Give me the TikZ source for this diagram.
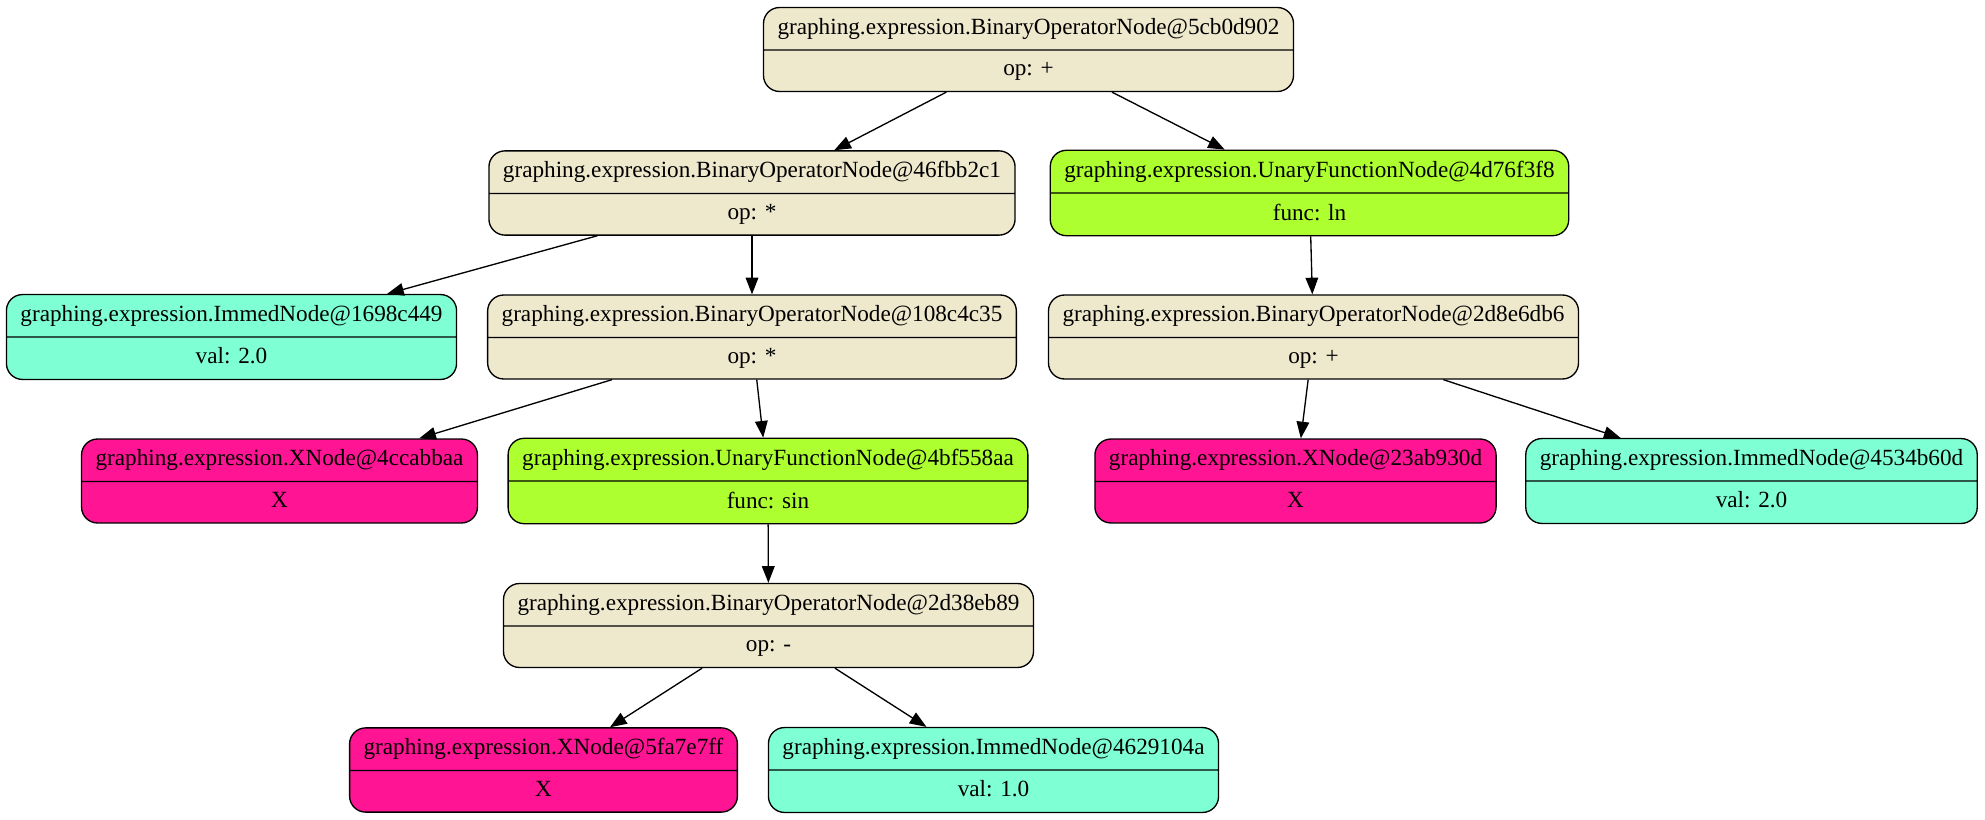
\documentclass[tikz,border=0pt]{standalone}
\usepackage{fontspec}
\setmainfont{Liberation Serif}
\usetikzlibrary{shapes.multipart,arrows.meta}
\definecolor{opcol}{HTML}{EEE8CD}
\definecolor{funcol}{HTML}{ADFF2F}
\definecolor{xcol}{HTML}{FF1493}
\definecolor{immcol}{HTML}{7FFFD4}
\newcommand{\rec}[2]{\vphantom{Xg}#1\nodepart{two}\vphantom{Xg}#2}

\begin{document}
\begin{tikzpicture}[x=0.75pt,y=-0.75pt,
    rec/.style={rectangle split, rectangle split parts=2, draw, line width=1pt,
        rounded corners=12pt, inner xsep=10.5pt, inner ysep=7.5pt,
        font=\fontsize{17.4pt}{20pt}\selectfont},
    opnode/.style={rec, fill=opcol},
    funnode/.style={rec, fill=funcol},
    xnode/.style={rec, fill=xcol},
    immnode/.style={rec, fill=immcol},
    link/.style={-{Triangle[length=12.5pt,width=9.5pt]}, line width=1pt}]
        \useasboundingbox (0,0) rectangle (1985,820);

        % row 1
        \node[opnode] (op5cb) at (1028.5,49.5) {\rec{graphing.expression.BinaryOperatorNode@5cb0d902}{op: +}};
        % row 2
        \node[opnode] (op46f) at (752,193) {\rec{graphing.expression.BinaryOperatorNode@46fbb2c1}{op: *}};
        \node[funnode] (fn4d7) at (1309.5,193) {\rec{graphing.expression.UnaryFunctionNode@4d76f3f8}{func: ln}};
        % row 3
        \node[immnode] (imm169) at (231.5,337) {\rec{graphing.expression.ImmedNode@1698c449}{val: 2.0}};
        \node[opnode] (op108) at (752,337) {\rec{graphing.expression.BinaryOperatorNode@108c4c35}{op: *}};
        \node[opnode] (op2d8) at (1313.5,337) {\rec{graphing.expression.BinaryOperatorNode@2d8e6db6}{op: +}};
        % row 4
        \node[xnode] (x4cc) at (279.5,481) {\rec{graphing.expression.XNode@4ccabbaa}{X}};
        \node[funnode] (fn4bf) at (768,481) {\rec{graphing.expression.UnaryFunctionNode@4bf558aa}{func: sin}};
        \node[xnode] (x23a) at (1295.5,481) {\rec{graphing.expression.XNode@23ab930d}{X}};
        \node[immnode] (imm453) at (1751.5,481) {\rec{graphing.expression.ImmedNode@4534b60d}{val: 2.0}};
        % row 5
        \node[opnode] (op2d3) at (768.5,625.5) {\rec{graphing.expression.BinaryOperatorNode@2d38eb89}{op: -}};
        % row 6
        \node[xnode] (x5fa) at (543.5,770) {\rec{graphing.expression.XNode@5fa7e7ff}{X}};
        \node[immnode] (imm462) at (993.5,770) {\rec{graphing.expression.ImmedNode@4629104a}{val: 1.0}};

        \draw[link] (op5cb) -- (op46f);
        \draw[link] (op5cb) -- (fn4d7);
        \draw[link] (op46f) -- (imm169);
        \draw[link] (op46f) -- (op108);
        \draw[link] (op108) -- (x4cc);
        \draw[link] (op108) -- (fn4bf);
        \draw[link] (fn4bf) -- (op2d3);
        \draw[link] (op2d3) -- (x5fa);
        \draw[link] (op2d3) -- (imm462);
        \draw[link] (fn4d7) -- (op2d8);
        \draw[link] (op2d8) -- (x23a);
        \draw[link] (op2d8) -- (imm453);
    \end{tikzpicture}
\end{document}
